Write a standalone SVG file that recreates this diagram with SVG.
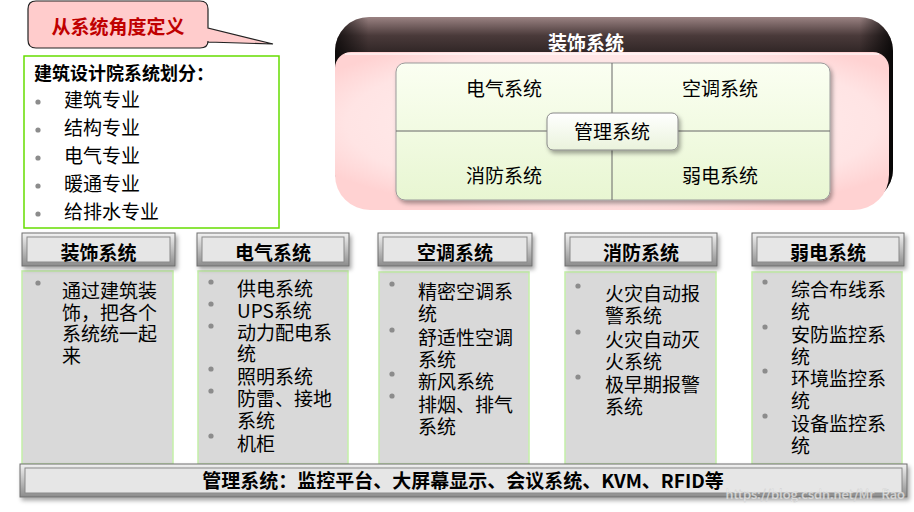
<svg xmlns="http://www.w3.org/2000/svg" width="914" height="512" viewBox="0 0 914 512">
<defs>
<style>
text{font-family:"Noto Sans CJK SC","Noto Sans",sans-serif;fill:#000}
.it{font-size:19px}
.hd{font-size:19px;font-weight:bold;text-anchor:middle}
.q{font-size:19px;text-anchor:middle}
.bul{fill:#8c8c8c}
.col{fill:#d9d9d9;stroke:#c4f0a8;stroke-width:1.5}
.bo{fill:url(#bev);stroke:#6e6e6e;stroke-width:1}
.bi{fill:#e6e6e6;stroke:#8a8a8a;stroke-width:1}
</style>
<linearGradient id="bev" x1="0" y1="0" x2="0" y2="1">
<stop offset="0" stop-color="#f2f2f2"/><stop offset="1" stop-color="#8c8c8c"/>
</linearGradient>
<linearGradient id="dark" x1="0" y1="0" x2="0" y2="1">
<stop offset="0" stop-color="#9a8282"/><stop offset="0.1" stop-color="#4a3a3a"/><stop offset="0.2" stop-color="#2e2424"/><stop offset="1" stop-color="#1a1212"/>
</linearGradient>
<linearGradient id="darkside" x1="0" y1="0" x2="1" y2="0">
<stop offset="0" stop-color="#000" stop-opacity="0.7"/><stop offset="0.06" stop-color="#000" stop-opacity="0"/><stop offset="0.94" stop-color="#000" stop-opacity="0"/><stop offset="1" stop-color="#000" stop-opacity="0.8"/>
</linearGradient>
<radialGradient id="pink" cx="0.5" cy="0.45" r="0.6">
<stop offset="0" stop-color="#fff3f3"/><stop offset="0.8" stop-color="#ffe4e4"/><stop offset="1" stop-color="#ffd2d2"/>
</radialGradient>
<linearGradient id="grn" x1="0" y1="0" x2="0" y2="1">
<stop offset="0" stop-color="#fbfff2"/><stop offset="1" stop-color="#e8f6d2"/>
</linearGradient>
<linearGradient id="ctr" x1="0" y1="0" x2="0" y2="1">
<stop offset="0" stop-color="#ffffff"/><stop offset="1" stop-color="#eaf3dc"/>
</linearGradient>
<filter id="sh" x="-10%" y="-20%" width="130%" height="160%">
<feDropShadow dx="2" dy="3" stdDeviation="2" flood-color="#000" flood-opacity="0.35"/>
</filter>
</defs>

<g id="callout">
<path d="M36,1 H200 Q208,1 208,9 V28 L273,44 L208,42 V41 Q208,48 200,48 H36 Q28,48 28,40 V9 Q28,1 36,1 Z" fill="#ffcccc" stroke="#222" stroke-width="1.2"/>
<text x="118" y="34" text-anchor="middle" style="font-size:19px;font-weight:bold;fill:#c00000">从系统角度定义</text>
</g>

<g id="design-institute">
<rect x="24" y="56" width="255" height="172" fill="#fff" stroke="#66dd00" stroke-width="1.5"/>
<text x="34" y="80" style="font-size:18px;font-weight:bold">建筑设计院系统划分：</text>
<circle class="bul" cx="38" cy="102" r="2.6"/><text class="it" x="64" y="107">建筑专业</text>
<circle class="bul" cx="38" cy="130" r="2.6"/><text class="it" x="64" y="135">结构专业</text>
<circle class="bul" cx="38" cy="158" r="2.6"/><text class="it" x="64" y="163">电气专业</text>
<circle class="bul" cx="38" cy="186" r="2.6"/><text class="it" x="64" y="191">暖通专业</text>
<circle class="bul" cx="38" cy="214" r="2.6"/><text class="it" x="64" y="219">给排水专业</text>
</g>

<g id="decoration-overview">
<rect x="335" y="17" width="558" height="186" rx="34" fill="url(#dark)"/>
<rect x="335" y="17" width="558" height="186" rx="34" fill="url(#darkside)"/>
<path d="M351,52 H873 A16,16 0 0 1 889,68 V175 A35,35 0 0 1 854,210 H370 A35,35 0 0 1 335,175 V68 A16,16 0 0 1 351,52 Z" fill="url(#pink)"/>
<path d="M345,54 H879" stroke="#ffffff" stroke-opacity="0.7" stroke-width="1.5" fill="none"/>
<text x="586" y="50" text-anchor="middle" style="font-size:19px;font-weight:bold;fill:#fff">装饰系统</text>
<rect x="396" y="63" width="434" height="137" rx="9" fill="url(#grn)" stroke="#9a9a9a" stroke-width="1" filter="url(#sh)"/>
<line x1="612" y1="63" x2="612" y2="200" stroke="#666" stroke-width="1"/>
<line x1="396" y1="131" x2="830" y2="131" stroke="#666" stroke-width="1"/>
<text class="q" x="504" y="96">电气系统</text>
<text class="q" x="720" y="96">空调系统</text>
<text class="q" x="504" y="183">消防系统</text>
<text class="q" x="720" y="183">弱电系统</text>
<g id="management-center">
<rect x="547" y="113" width="131" height="37" rx="6" fill="url(#ctr)" stroke="#888" stroke-width="1" filter="url(#sh)"/>
<text class="q" x="612" y="139">管理系统</text>
</g>
</g>

<g id="col-decoration">
<rect class="col" x="22" y="271" width="151" height="193"/>
<g filter="url(#sh)"><rect class="bo" x="22" y="233" width="153" height="33"/><rect class="bi" x="27" y="237" width="143" height="25"/></g>
<text class="hd" x="98.5" y="260">装饰系统</text>
<circle class="bul" cx="38" cy="283" r="2.6"/>
<text class="it" x="62"><tspan x="62" y="298">通过建筑装</tspan><tspan x="62" y="320">饰，把各个</tspan><tspan x="62" y="341">系统统一起</tspan><tspan x="62" y="363">来</tspan></text>
</g>

<g id="col-electrical">
<rect class="col" x="198" y="271" width="150" height="193"/>
<g filter="url(#sh)"><rect class="bo" x="197" y="233" width="152" height="33"/><rect class="bi" x="202" y="237" width="142" height="25"/></g>
<text class="hd" x="273" y="260">电气系统</text>
<circle class="bul" cx="211" cy="282" r="2.6"/><text class="it" x="237" y="296">供电系统</text>
<circle class="bul" cx="211" cy="304" r="2.6"/><text class="it" x="237" y="318">UPS系统</text>
<circle class="bul" cx="211" cy="326" r="2.6"/><text class="it" x="237"><tspan x="237" y="340">动力配电系</tspan><tspan x="237" y="361">统</tspan></text>
<circle class="bul" cx="211" cy="369" r="2.6"/><text class="it" x="237" y="384">照明系统</text>
<circle class="bul" cx="211" cy="391" r="2.6"/><text class="it" x="237"><tspan x="237" y="406">防雷、接地</tspan><tspan x="237" y="428">系统</tspan></text>
<circle class="bul" cx="211" cy="436" r="2.6"/><text class="it" x="237" y="451">机柜</text>
</g>

<g id="col-hvac">
<rect class="col" x="379" y="272" width="150" height="192"/>
<g filter="url(#sh)"><rect class="bo" x="378" y="233" width="154" height="33"/><rect class="bi" x="383" y="237" width="144" height="25"/></g>
<text class="hd" x="455" y="260">空调系统</text>
<circle class="bul" cx="392" cy="284" r="2.6"/><text class="it" x="418"><tspan x="418" y="299">精密空调系</tspan><tspan x="418" y="321">统</tspan></text>
<circle class="bul" cx="392" cy="330" r="2.6"/><text class="it" x="418"><tspan x="418" y="345">舒适性空调</tspan><tspan x="418" y="367">系统</tspan></text>
<circle class="bul" cx="392" cy="374" r="2.6"/><text class="it" x="418" y="389">新风系统</text>
<circle class="bul" cx="392" cy="396" r="2.6"/><text class="it" x="418"><tspan x="418" y="412">排烟、排气</tspan><tspan x="418" y="434">系统</tspan></text>
</g>

<g id="col-fire">
<rect class="col" x="565" y="272" width="151" height="192"/>
<g filter="url(#sh)"><rect class="bo" x="565" y="233" width="152" height="33"/><rect class="bi" x="570" y="237" width="142" height="25"/></g>
<text class="hd" x="641" y="260">消防系统</text>
<circle class="bul" cx="578" cy="286" r="2.6"/><text class="it" x="605"><tspan x="605" y="301">火灾自动报</tspan><tspan x="605" y="323">警系统</tspan></text>
<circle class="bul" cx="578" cy="332" r="2.6"/><text class="it" x="605"><tspan x="605" y="347">火灾自动灭</tspan><tspan x="605" y="369">火系统</tspan></text>
<circle class="bul" cx="578" cy="377" r="2.6"/><text class="it" x="605"><tspan x="605" y="392">极早期报警</tspan><tspan x="605" y="414">系统</tspan></text>
</g>

<g id="col-weak">
<rect class="col" x="752" y="272" width="150" height="192"/>
<g filter="url(#sh)"><rect class="bo" x="752" y="233" width="152" height="33"/><rect class="bi" x="757" y="237" width="142" height="25"/></g>
<text class="hd" x="828" y="260">弱电系统</text>
<circle class="bul" cx="765" cy="282" r="2.6"/><text class="it" x="791"><tspan x="791" y="297">综合布线系</tspan><tspan x="791" y="319">统</tspan></text>
<circle class="bul" cx="765" cy="327" r="2.6"/><text class="it" x="791"><tspan x="791" y="342">安防监控系</tspan><tspan x="791" y="364">统</tspan></text>
<circle class="bul" cx="765" cy="371" r="2.6"/><text class="it" x="791"><tspan x="791" y="386">环境监控系</tspan><tspan x="791" y="408">统</tspan></text>
<circle class="bul" cx="765" cy="416" r="2.6"/><text class="it" x="791"><tspan x="791" y="431">设备监控系</tspan><tspan x="791" y="453">统</tspan></text>
</g>

<g id="management-bar">
<g filter="url(#sh)"><rect class="bo" x="20" y="464" width="887" height="33"/><rect class="bi" x="25" y="468" width="877" height="25"/></g>
<text class="hd" x="463" y="488">管理系统：监控平台、大屏幕显示、会议系统、KVM、RFID等</text>
</g>

<text x="905" y="499" text-anchor="end" style="font-size:13px;fill:#ffffff;fill-opacity:0.75;stroke:#c8c8c8;stroke-width:0.4">https://blog.csdn.net/Mr_Rao</text>
<g id="connectors"/>
</svg>
